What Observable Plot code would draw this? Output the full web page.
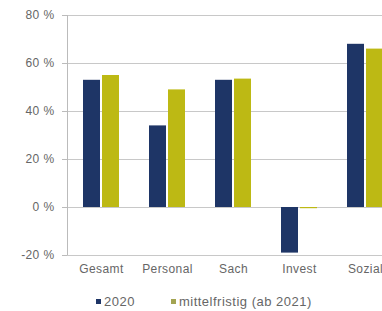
<!DOCTYPE html>
<html>
<head>
<meta charset="utf-8">
<script src="https://cdn.jsdelivr.net/npm/d3@7"></script>
<script src="https://cdn.jsdelivr.net/npm/@observablehq/plot@0.6"></script>
<style>
  html, body { margin: 0; padding: 0; background: #fff; overflow: hidden; width: 382px; }
  #chart { width: 382px; overflow: hidden; }
  #chart svg { display: block; max-width: none !important; }
  #chart svg text { letter-spacing: 0.4px; }
  .legend { display: flex; font: 13px "Liberation Sans", Arial, sans-serif; letter-spacing: 0.5px; color: #666; height: 32px; align-items: center; }
  .legend span.sw { display: inline-block; width: 5px; height: 5px; margin-right: 3px; }
  .legend .item { display: flex; align-items: center; }
</style>
</head>
<body>
<div id="chart"></div>
<script>
const categories = ["Gesamt", "Personal", "Sach", "Invest", "Sozial"];
const seriesNames = ["2020", "mittelfristig (ab 2021)"];
const values2020 = [53, 34, 53, -19, 68];
const valuesMittel = [55, 49, 53.5, -0.5, 66];
const yTicks = [-20, 0, 20, 40, 60, 80];
const colors = ["#1e3566", "#bdb914"];
const legendColors = ["#1e3566", "#a3a452"];

const data = categories.flatMap((c, i) => [
  {cat: c, series: seriesNames[0], value: values2020[i]},
  {cat: c, series: seriesNames[1], value: valuesMittel[i]}
]);

const chart = Plot.plot({
  width: 401,
  height: 285,
  marginLeft: 67,
  marginRight: 2,
  marginTop: 15,
  marginBottom: 30,
  style: {fontFamily: "Liberation Sans, Arial, sans-serif", fontSize: "12px", color: "#666", background: "#fff"},
  x: {domain: categories, paddingInner: 0.4545, paddingOuter: 0.242, label: null, tickSize: 0, tickPadding: 9},
  y: {domain: [-20, 80], ticks: yTicks, tickFormat: d => `${d} %`, label: null, tickSize: 5, tickPadding: 8},
  marks: [
    Plot.ruleY(yTicks, {stroke: "#c8c8c8", strokeWidth: 1}),
    Plot.ruleX([0], {x: () => categories[0], y1: -20, y2: 80, stroke: "#bbb", dx: -34, strokeWidth: 1}),
    Plot.barY(data.filter(d => d.series === seriesNames[0]), {x: "cat", y: "value", fill: colors[0], insetRight: 19}),
    Plot.barY(data.filter(d => d.series === seriesNames[1]), {x: "cat", y: "value", fill: colors[1], insetLeft: 19}),
    Plot.axisX({tickSize: 0, tickPadding: 9, fontSize: 12, fill: "#666"}),
    Plot.axisY({ticks: yTicks, tickFormat: d => `${d} %`, tickSize: 5, tickPadding: 8, stroke: "#bbb", fill: "#666", fontSize: 12})
  ]
});
document.getElementById("chart").appendChild(chart);

const legend = document.createElement("div");
legend.className = "legend";
legend.style.paddingLeft = "96px";
seriesNames.forEach((name, i) => {
  const item = document.createElement("div");
  item.className = "item";
  if (i > 0) item.style.marginLeft = "36px";
  const sw = document.createElement("span");
  sw.className = "sw";
  sw.style.background = legendColors[i];
  item.appendChild(sw);
  item.appendChild(document.createTextNode(name));
  legend.appendChild(item);
});
document.body.appendChild(legend);
</script>
</body>
</html>
